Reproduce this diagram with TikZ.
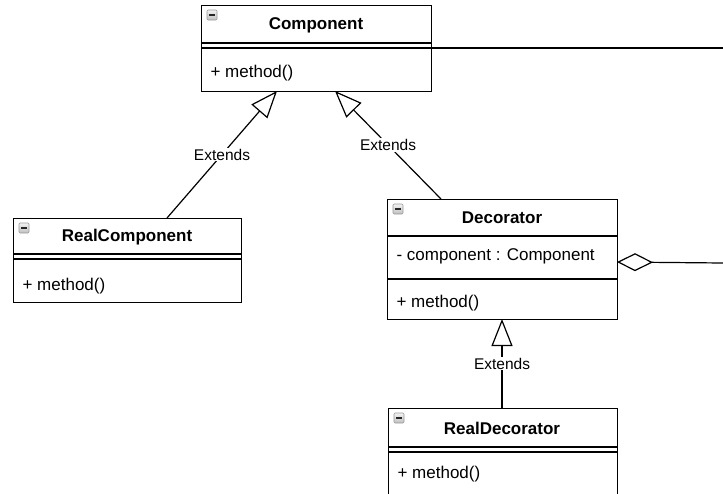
\documentclass[tikz,border=0pt]{standalone}
\usepackage{fontspec}
\setmainfont{Liberation Sans}
\usetikzlibrary{arrows.meta}
\begin{document}
\begin{tikzpicture}[x=1pt,y=-1pt,line width=1.2pt,
  classbox/.style={draw,rectangle,inner sep=0pt,anchor=north west},
  ctitle/.style={font=\fontsize{17}{20}\selectfont\bfseries,anchor=center,inner sep=0pt},
  member/.style={font=\fontsize{17}{20}\selectfont,anchor=west,inner sep=0pt},
  lbl/.style={font=\fontsize{15.5}{18}\selectfont,fill=white,inner sep=1pt},
  ext/.style={draw,-{Triangle[open,length=27pt,width=21pt]}},
  agg/.style={draw,-{Diamond[open,length=36pt,width=18pt]}},
  collapse/.pic={
    \draw[line width=0.6pt,draw=gray!80,top color=gray!10,bottom color=gray!50,rounded corners=1pt] (0,0) rectangle (10,10);
    \draw[line width=1.5pt,draw=gray!30!black] (2.3,5) -- (7.7,5);
  }]
\clip (0,0) rectangle (723,493);
\useasboundingbox (0,0) rectangle (723,493);

% Component
\node[classbox,minimum width=230pt,minimum height=86pt] (comp) at (201,5) {};
\draw (201,43) -- (431,43);
\draw (201,48) -- (431,48);
\pic at (207,10) {collapse};
\node[ctitle] (compT) at (316,25) {Component};
\node[member] (compM) at (210,73) {+ method()};

% RealComponent
\node[classbox,minimum width=228pt,minimum height=84pt] (rc) at (13,218) {};
\draw (13,254) -- (241,254);
\draw (13,259) -- (241,259);
\pic at (19,223) {collapse};
\node[ctitle] (rcT) at (127,237) {RealComponent};
\node[member] (rcM) at (22,286) {+ method()};

% Decorator
\node[classbox,minimum width=230pt,minimum height=120pt] (dec) at (387,199) {};
\draw (387,236) -- (617,236);
\draw (387,279) -- (617,279);
\pic at (393,204) {collapse};
\node[ctitle] (decT) at (502,218) {Decorator};
\node[member] (decA) at (396,256) {- component : Component};
\node[member] (decM) at (396,303) {+ method()};

% RealDecorator
\node[classbox,minimum width=229pt,minimum height=120pt] (rd) at (388,408) {};
\draw (388,447) -- (617,447);
\draw (388,452) -- (617,452);
\pic at (394,413) {collapse};
\node[ctitle] (rdT) at (502,428) {RealDecorator};
\node[member] (rdM) at (397,474) {+ method()};

% connector end points
\coordinate (rcTop) at (167,218);
\coordinate (compB1) at (277,91);
\coordinate (decTop) at (441,199);
\coordinate (compB2) at (335,91);
\coordinate (rdTop) at (502,408);
\coordinate (decBot) at (502,319);
\coordinate (compR) at (431,48);
\coordinate (offR1) at (723,48);
\coordinate (decR) at (617,262);
\coordinate (offR2) at (723,263);

\draw[ext] (rcTop) -- node[lbl] {Extends} (compB1);
\draw[ext] (decTop) -- node[lbl] {Extends} (compB2);
\draw[ext] (rdTop) -- node[lbl] {Extends} (decBot);
\draw (compR) -- (offR1);
\draw[agg] (offR2) -- (decR);
\end{tikzpicture}
\end{document}
